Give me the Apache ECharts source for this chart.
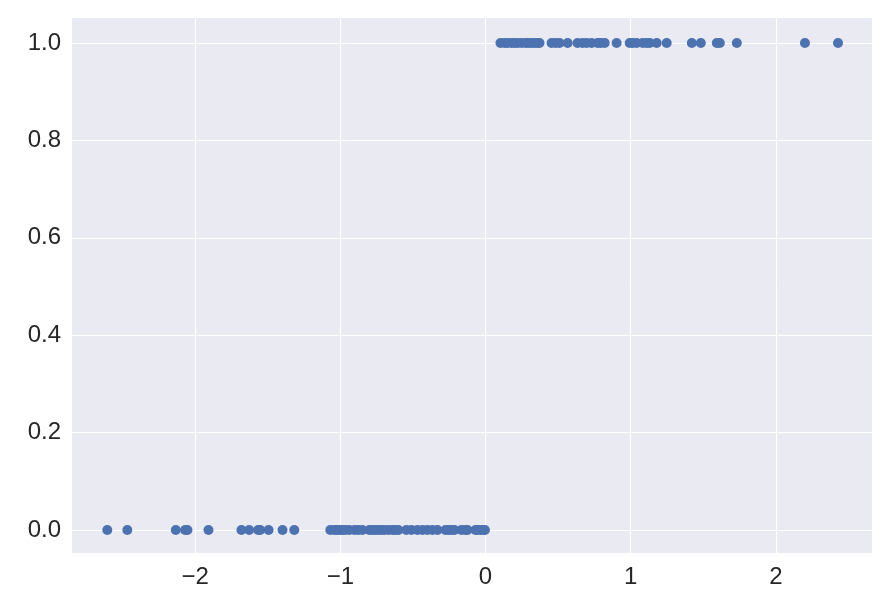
<!DOCTYPE html>
<html>
<head>
<meta charset="utf-8">
<title>Scatter</title>
<script src="https://cdn.jsdelivr.net/npm/echarts@6/dist/echarts.min.js"></script>
<style>
  html, body { margin: 0; padding: 0; background: #fff; }
  #main { width: 893px; height: 605px; }
</style>
</head>
<body>
<div id="main"></div>
<script>
// class 0 points (y = 0)
var xNeg = [-2.605, -2.467, -2.133, -2.069, -2.053, -1.908, -1.681, -1.628, -1.566, -1.552,
  -1.494, -1.398, -1.317, -1.069, -1.041, -1.021, -1.000, -0.986, -0.966, -0.938, -0.903,
  -0.876, -0.848, -0.800, -0.779, -0.759, -0.738, -0.717, -0.697, -0.669, -0.641, -0.621,
  -0.600, -0.545, -0.510, -0.469, -0.434, -0.400, -0.366, -0.331, -0.276, -0.255, -0.234,
  -0.214, -0.166, -0.138, -0.124, -0.069, -0.055, -0.034, -0.014, -0.004];
// class 1 points (y = 1)
var xPos = [0.103, 0.131, 0.152, 0.179, 0.200, 0.221, 0.248, 0.276, 0.297, 0.317, 0.338,
  0.359, 0.372, 0.455, 0.483, 0.510, 0.566, 0.634, 0.669, 0.697, 0.731, 0.772, 0.793,
  0.821, 0.903, 0.993, 1.014, 1.041, 1.083, 1.110, 1.131, 1.179, 1.248, 1.421, 1.483,
  1.593, 1.614, 1.731, 2.200, 2.428];
var xTicks = [-2, -1, 0, 1, 2];
var yTicks = [0, 0.2, 0.4, 0.6, 0.8, 1.0];

var points = [];
xNeg.forEach(function (x) { points.push([x, 0]); });
xPos.forEach(function (x) { points.push([x, 1]); });

var labelStyle = {
  color: '#262626',
  fontSize: 24,
  fontFamily: 'Liberation Sans, Arial, sans-serif'
};

var myChart = echarts.init(document.getElementById('main'));
myChart.setOption({
  animation: false,
  grid: {
    left: 72, right: 21, top: 18, bottom: 52,
    show: true, backgroundColor: '#EAEAF2', borderWidth: 0
  },
  xAxis: {
    type: 'value',
    min: -2.848,
    max: 2.662,
    axisLine: { show: false },
    axisTick: { show: false, customValues: xTicks },
    splitLine: { show: true, lineStyle: { color: '#ffffff', width: 1 } },
    axisLabel: Object.assign({
      customValues: xTicks,
      margin: 12,
      formatter: function (v) { return String(v).replace('-', '\u2212'); }
    }, labelStyle)
  },
  yAxis: {
    type: 'value',
    min: -0.0472,
    max: 1.0513,
    axisLine: { show: false },
    axisTick: { show: false, customValues: yTicks },
    splitLine: { show: true, lineStyle: { color: '#ffffff', width: 1 } },
    axisLabel: Object.assign({
      customValues: yTicks,
      margin: 11,
      formatter: function (v) { return v.toFixed(1); }
    }, labelStyle)
  },
  series: [{
    type: 'scatter',
    data: points,
    symbolSize: 10,
    itemStyle: { color: '#4C72B0', opacity: 1 }
  }]
});
</script>
</body>
</html>
